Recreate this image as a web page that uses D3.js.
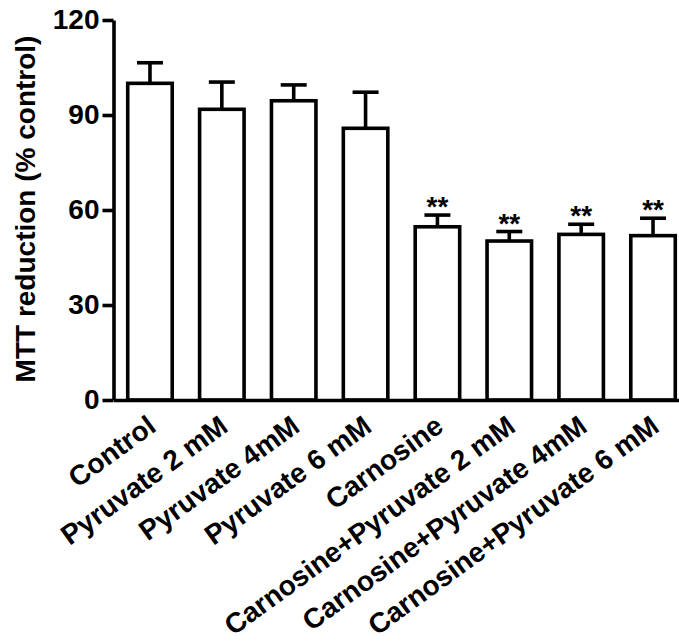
<!DOCTYPE html>
<html>
<head>
<meta charset="utf-8">
<script src="https://cdn.jsdelivr.net/npm/d3@7"></script>
<style>
  html, body { margin: 0; padding: 0; background: #fff; }
  svg { display: block; font-family: "Liberation Sans", Arial, Helvetica, sans-serif; }
</style>
</head>
<body>
<svg id="chart" width="679" height="644"></svg>
<script>
// Treatment groups, mean MTT reduction (% of control), SEM and significance marks
const categories = [
  "Control",
  "Pyruvate 2 mM",
  "Pyruvate 4mM",
  "Pyruvate 6 mM",
  "Carnosine",
  "Carnosine+Pyruvate 2 mM",
  "Carnosine+Pyruvate 4mM",
  "Carnosine+Pyruvate 6 mM"
];
const means = [100, 91.8, 94.5, 85.8, 54.7, 50.2, 52.3, 51.9];
const sems = [6.5, 8.6, 5.0, 11.4, 3.7, 3.0, 3.2, 5.5];
const marks = ["", "", "", "", "**", "**", "**", "**"];
const yTicks = [0, 30, 60, 90, 120];
const yTitle = "MTT reduction (% control)";

const rows = categories.map((c, i) => ({ cat: c, mean: means[i], sem: sems[i], mark: marks[i] }));

const svg = d3.select("#chart");
const axisX = 113.5, plotTop = 20, plotBottom = 400;
const lw = 3.6;

const y = d3.scaleLinear().domain([0, 120]).range([plotBottom, plotTop]);
const x = d3.scaleBand()
  .domain(categories)
  .range([axisX, 689.5])
  .paddingInner(0.381)
  .paddingOuter(0.198);

// Bars
svg.append("g").selectAll("rect")
  .data(rows)
  .join("rect")
  .attr("x", d => x(d.cat))
  .attr("y", d => y(d.mean))
  .attr("width", x.bandwidth())
  .attr("height", d => y(0) - y(d.mean))
  .attr("fill", "#fff")
  .attr("stroke", "#000")
  .attr("stroke-width", lw);

// Upper error bars
const capHalf = 13;
const err = svg.append("g").attr("stroke", "#000").attr("stroke-width", lw);
rows.forEach(d => {
  const cx = x(d.cat) + x.bandwidth() / 2;
  err.append("line")
    .attr("x1", cx).attr("x2", cx)
    .attr("y1", y(d.mean)).attr("y2", y(d.mean + d.sem));
  err.append("line")
    .attr("x1", cx - capHalf).attr("x2", cx + capHalf)
    .attr("y1", y(d.mean + d.sem)).attr("y2", y(d.mean + d.sem));
});

// Significance marks above error bars
svg.append("g").selectAll("text")
  .data(rows.filter(d => d.mark))
  .join("text")
  .attr("x", d => x(d.cat) + x.bandwidth() / 2)
  .attr("y", d => y(d.mean + d.sem) + 1)
  .attr("text-anchor", "middle")
  .attr("font-size", 28)
  .attr("font-weight", "bold")
  .text(d => d.mark);

// Y axis
const yAxis = svg.append("g")
  .attr("transform", `translate(${axisX},0)`)
  .call(d3.axisLeft(y).tickValues(yTicks).tickSize(11).tickSizeOuter(0).tickPadding(3));
yAxis.select(".domain").attr("stroke-width", lw);
yAxis.selectAll(".tick line").attr("stroke-width", lw);
yAxis.selectAll(".tick text")
  .attr("font-size", 28)
  .attr("font-weight", "bold")
  .attr("fill", "#000")
  .attr("font-family", "'Liberation Sans', Arial, sans-serif");

// X axis with slanted category labels
const xAxis = svg.append("g")
  .attr("transform", `translate(0,${plotBottom})`)
  .call(d3.axisBottom(x).tickSize(0).tickSizeOuter(0));
xAxis.select(".domain").attr("stroke-width", lw);
xAxis.selectAll(".tick text")
  .attr("font-size", 28)
  .attr("font-weight", "bold")
  .attr("fill", "#000")
  .attr("font-family", "'Liberation Sans', Arial, sans-serif")
  .attr("text-anchor", "end")
  .attr("x", 0).attr("y", 0)
  .attr("dy", "0.35em")
  .attr("transform", "translate(2,22) rotate(-36)");

// Y axis title
svg.append("text")
  .attr("transform", `translate(35,${(plotTop + plotBottom) / 2 - 1}) rotate(-90)`)
  .attr("text-anchor", "middle")
  .attr("font-size", 28)
  .attr("font-weight", "bold")
  .text(yTitle);
</script>
</body>
</html>
